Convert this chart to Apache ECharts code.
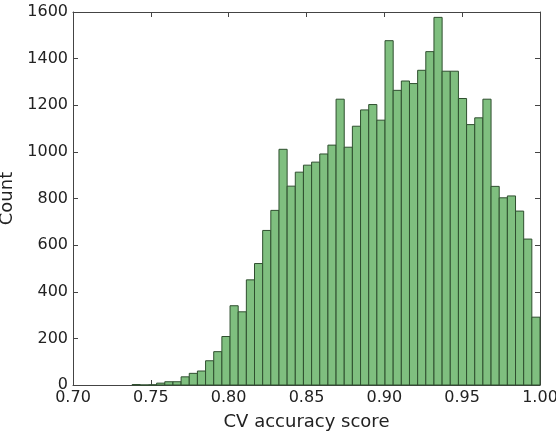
<!DOCTYPE html>
<html>
<head>
<meta charset="utf-8">
<script src="https://cdn.jsdelivr.net/npm/echarts@6/dist/echarts.min.js"></script>
<style>
  html, body { margin: 0; padding: 0; background: #fff; }
  #chart { width: 556px; height: 433px; }
</style>
</head>
<body>
<div id="chart"></div>
<script>
// histogram: 50 equal bins between binLow and binHigh
const binLow = 0.738;
const binHigh = 1.0;
const counts = [
  2, 0, 1, 8, 14, 14, 35, 50, 60, 104,
  143, 208, 340, 314, 451, 521, 663, 749, 1011, 853,
  913, 943, 956, 991, 1029, 1226, 1020, 1110, 1180, 1203,
  1136, 1477, 1264, 1304, 1293, 1350, 1430, 1577, 1346, 1346,
  1229, 1117, 1146, 1226, 852, 803, 811, 746, 626, 291
];
const xTicks = [0.70, 0.75, 0.80, 0.85, 0.90, 0.95, 1.00];
const yTicks = [0, 200, 400, 600, 800, 1000, 1200, 1400, 1600];

const step = (binHigh - binLow) / counts.length;
const bins = counts.map((c, i) => [binLow + i * step, binLow + (i + 1) * step, c]);

const font = 'DejaVu Sans';
const chart = echarts.init(document.getElementById('chart'));

const frameLine = { show: true, onZero: false, lineStyle: { color: '#444', width: 1 } };
const tick = { show: true, inside: true, length: 5, lineStyle: { color: '#444' } };

chart.setOption({
  animation: false,
  grid: { left: 73, right: 16, top: 12, bottom: 48, containLabel: false, outerBoundsMode: 'none' },
  xAxis: [{
    type: 'value',
    min: xTicks[0], max: xTicks[xTicks.length - 1], interval: 0.05,
    name: 'CV accuracy score',
    nameLocation: 'middle',
    nameGap: 28,
    nameTextStyle: { fontFamily: font, fontSize: 18, color: '#222' },
    axisLine: frameLine,
    axisTick: tick,
    splitLine: { show: false },
    axisLabel: {
      fontFamily: font, fontSize: 16, color: '#222', margin: 5,
      formatter: v => v.toFixed(2)
    }
  }, {
    type: 'value', position: 'top',
    min: xTicks[0], max: xTicks[xTicks.length - 1], interval: 0.05,
    axisLine: frameLine, axisTick: tick,
    axisLabel: { show: false }, splitLine: { show: false }
  }],
  yAxis: [{
    type: 'value',
    min: yTicks[0], max: yTicks[yTicks.length - 1], interval: 200,
    name: 'Count',
    nameLocation: 'middle',
    nameGap: 53,
    nameTextStyle: { fontFamily: font, fontSize: 18, color: '#222' },
    axisLine: frameLine,
    axisTick: tick,
    splitLine: { show: false },
    axisLabel: { fontFamily: font, fontSize: 16, color: '#222', margin: 5, formatter: v => String(v) }
  }, {
    type: 'value', position: 'right',
    min: yTicks[0], max: yTicks[yTicks.length - 1], interval: 200,
    axisLine: frameLine, axisTick: tick,
    axisLabel: { show: false }, splitLine: { show: false }
  }],
  series: [{
    type: 'custom',
    xAxisIndex: 0, yAxisIndex: 0,
    data: bins,
    encode: { x: [0, 1], y: 2 },
    renderItem: function (params, api) {
      const p0 = api.coord([api.value(0), 0]);
      const p1 = api.coord([api.value(1), api.value(2)]);
      return {
        type: 'rect',
        shape: { x: p0[0], y: p1[1], width: p1[0] - p0[0], height: p0[1] - p1[1] },
        style: { fill: '#7fbf7f', stroke: '#2f4f2f', lineWidth: 1 }
      };
    }
  }]
});
</script>
</body>
</html>
